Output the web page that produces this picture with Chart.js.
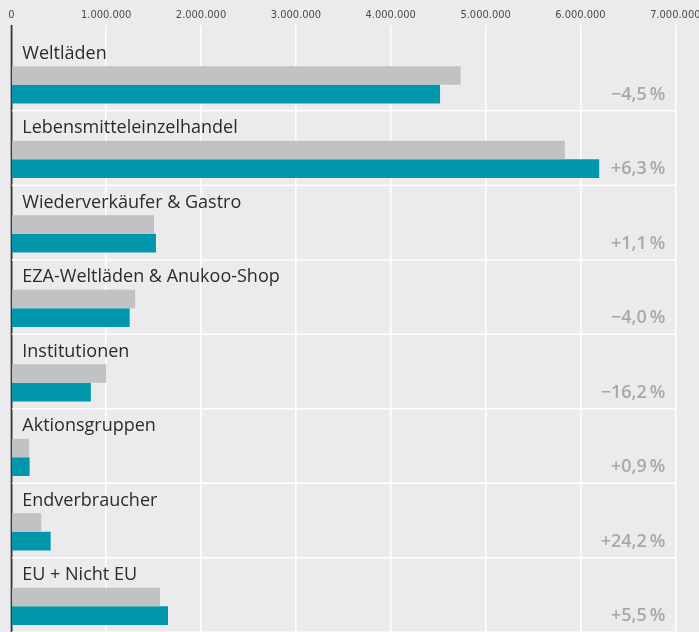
<!DOCTYPE html>
<html>
<head>
<meta charset="utf-8">
<script src="https://cdn.jsdelivr.net/npm/chart.js@4.4.1/dist/chart.umd.min.js"></script>
<style>
    html, body {
        margin: 0;
        padding: 0;
        width: 699px;
        height: 632px;
        overflow: hidden;
        background: #ebebed;
    }
    canvas {
        display: block;
    }
</style>
</head>
<body>
<canvas id="salesChart" width="699" height="650"></canvas>
<script>

// chart data (euro)
const categories = [
    "Weltläden",
    "Lebensmitteleinzelhandel",
    "Wiederverkäufer & Gastro",
    "EZA-Weltläden & Anukoo-Shop",
    "Institutionen",
    "Aktionsgruppen",
    "Endverbraucher",
    "EU + Nicht EU"
];

const previousYear = [4737000, 5836000, 1505000, 1305000, 1000000, 187000, 315000, 1568000];
const currentYear  = [4520000, 6198000, 1525000, 1248000,  839000, 193000, 415000, 1652000];

const changes = ["−4,5\u2009%", "+6,3\u2009%", "+1,1\u2009%", "−4,0\u2009%", "−16,2\u2009%", "+0,9\u2009%", "+24,2\u2009%", "+5,5\u2009%"];

const xMax = 7000000;
const xStep = 1000000;

const GREY = "#c1c2c4";
const TEAL = "#0097ad";
const AXIS = "#3a3a3a";

function formatDots(v) {
    return String(v).replace(/\B(?=(\d{3})+(?!\d))/g, ".");
}

// white lines between the groups
const separators = {
    id: "separators",
    beforeDatasetsDraw(chart) {
        const { ctx, chartArea, scales } = chart;
        const y = scales.y;
        const band = y.getPixelForValue(1) - y.getPixelForValue(0);
        ctx.save();
        ctx.strokeStyle = "#ffffff";
        ctx.lineWidth = 1.5;
        categories.forEach((c, i) => {
            const py = y.getPixelForValue(i) + band * 0.349;
            ctx.beginPath();
            ctx.moveTo(chartArea.left, py);
            ctx.lineTo(chartArea.right, py);
            ctx.stroke();
        });
        ctx.restore();
    }
};

// zero line on top of bars + change labels
const overlay = {
    id: "overlay",
    afterDatasetsDraw(chart) {
        const { ctx, chartArea, scales } = chart;
        const x0 = scales.x.getPixelForValue(0);
        ctx.save();
        ctx.strokeStyle = AXIS;
        ctx.lineWidth = 1.3;
        ctx.beginPath();
        ctx.moveTo(x0, scales.x.bottom - scales.x.options.grid.tickLength);
        ctx.lineTo(x0, chartArea.bottom);
        ctx.stroke();

        ctx.fillStyle = "#a8a8aa";
        ctx.font = "600 18px 'Open Sans'";
        ctx.textAlign = "right";
        ctx.textBaseline = "middle";
        const meta = chart.getDatasetMeta(1);
        changes.forEach((t, i) => {
            ctx.fillText(t, chartArea.right - 10, meta.data[i].y + 0.5);
        });
        ctx.restore();
    }
};

window.addEventListener("load", () => {

    const canvas = document.getElementById("salesChart");

    new Chart(canvas, {
        type: "bar",
        data: {
            labels: categories,
            datasets: [
                {
                    label: "Vorjahr",
                    data: previousYear,
                    backgroundColor: GREY,
                    borderWidth: 0
                },
                {
                    label: "Aktuell",
                    data: currentYear,
                    backgroundColor: TEAL,
                    borderWidth: 0
                }
            ]
        },
        options: {
            indexAxis: "y",
            responsive: false,
            animation: false,
            devicePixelRatio: 1,
            categoryPercentage: 0.5,
            barPercentage: 1,
            layout: {
                padding: { left: 0, right: 23.7, top: 0, bottom: 6.5 }
            },
            plugins: {
                legend: { display: false },
                tooltip: { enabled: false }
            },
            scales: {
                x: {
                    position: "top",
                    min: 0,
                    max: xMax,
                    afterFit(scale) {
                        scale.height = 47.5;
                        scale.paddingLeft = 0;
                        scale.paddingRight = 0;
                    },
                    ticks: {
                        stepSize: xStep,
                        padding: 3,
                        color: "#4a4a4a",
                        font: { family: "'Liberation Sans Narrow', 'DejaVu Sans Condensed', 'Roboto'", size: 11 },
                        maxRotation: 0,
                        callback: (v) => formatDots(v)
                    },
                    grid: {
                        color: (c) => (c.tick && c.tick.value === 0 ? AXIS : "#ffffff"),
                        lineWidth: 1.5,
                        tickLength: 22.5
                    },
                    border: { display: false }
                },
                y: {
                    afterFit(scale) {
                        scale.width = 11.3;
                        scale.paddingTop = 0;
                        scale.paddingBottom = 0;
                    },
                    ticks: {
                        mirror: true,
                        padding: 11,
                        labelOffset: -31,
                        autoSkip: false,
                        color: "#2b2b2b",
                        font: { family: "'Open Sans'", size: 18 }
                    },
                    grid: { display: false, drawTicks: false },
                    border: { display: false }
                }
            }
        },
        plugins: [separators, overlay]
    });

});
</script>
</body>
</html>
